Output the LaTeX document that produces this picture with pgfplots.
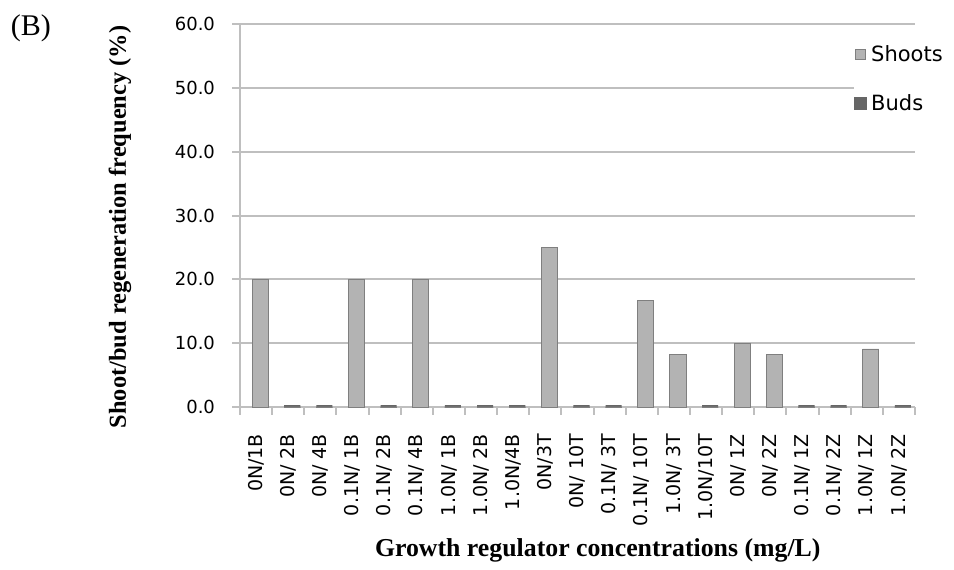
\documentclass[border=0pt]{standalone}
\usepackage{pgfplots}
\pgfplotsset{compat=1.18}
\usepackage{fontspec}
\setmainfont{Liberation Serif}
\newfontfamily\tickfont{DejaVu Sans}
\definecolor{shoot}{HTML}{B3B3B3}
\definecolor{shootedge}{HTML}{7F7F7F}
\definecolor{bud}{HTML}{666666}
\definecolor{gridc}{HTML}{BFBFBF}

\begin{document}
\begin{tikzpicture}
\begin{axis}[
  scale only axis, width=337.5pt, height=191.5pt,
  ybar, clip=false,
  xmin=-0.5, xmax=20.5, ymin=0, ymax=60,
  ytick={0,10,...,60},
  axis x line*=bottom, axis y line*=left,
  axis line style={gridc, line width=1pt, -},
  ymajorgrids, major grid style={gridc, line width=1pt},
  tick align=outside, major tick length=4pt,
  ytick style={gridc, line width=1pt},
  xtick={0,...,20},
  xtick style={draw=none},
  xticklabels={0N/1B, 0N/ 2B, 0N/ 4B, 0.1N/ 1B, 0.1N/ 2B, 0.1N/ 4B, 1.0N/ 1B, 1.0N/ 2B, 1.0N/4B,
    0N/3T, 0N/ 10T, 0.1N/ 3T, 0.1N/ 10T, 1.0N/ 3T, 1.0N/10T,
    0N/ 1Z, 0N/ 2Z, 0.1N/ 1Z, 0.1N/ 2Z, 1.0N/ 1Z, 1.0N/ 2Z},
  extra x ticks={-0.5,0.5,...,20.5},
  extra x tick labels={},
  extra x tick style={xtick style={draw=gridc, line width=1pt}},
  xticklabel style={rotate=90, anchor=east, font=\tickfont\fontsize{9.5}{11}\selectfont},
  xticklabel shift=6pt,
  yticklabel style={font=\tickfont\fontsize{9}{11}\selectfont},
  yticklabel shift=5pt,
  /pgf/number format/fixed, /pgf/number format/fixed zerofill,
  /pgf/number format/precision=1, /pgf/number format/assume math mode=true,
  ylabel={Shoot/bud regeneration frequency (\%)},
  ylabel style={at={(axis description cs:-0.178,0.47)}, anchor=center,
    font=\bfseries\fontsize{12.2}{14}\selectfont},
  xlabel={Growth regulator concentrations (mg/L)},
  xlabel style={at={(axis description cs:0.53,-0.375)}, anchor=center,
    font=\bfseries\fontsize{12.9}{15}\selectfont},
  bar width=0.5,
  every axis plot/.append style={legend image code/.code={\fill[#1] (0pt,-2.5pt) rectangle (5pt,2.5pt);}},
  reverse legend,
  legend style={at={(axis description cs:0.91,0.955)}, anchor=north west, draw=none, fill=white,
    inner sep=0pt, outer sep=0pt,
    font=\tickfont\fontsize{10.5}{12}\selectfont, row sep=11pt, legend cell align=left},
]
\addplot[fill=bud, draw=bud, line width=1.5pt, bar shift=2pt] coordinates {
  (0,0) (1,0) (2,0) (3,0) (4,0) (5,0) (6,0) (7,0) (8,0)
  (9,0) (10,0) (11,0) (12,0) (13,0) (14,0)
  (15,0) (16,0) (17,0) (18,0) (19,0) (20,0)
};
\addplot[fill=shoot, draw=shootedge, bar shift=2pt] coordinates {
  (0,20) (1,0) (2,0) (3,20) (4,0) (5,20) (6,0) (7,0) (8,0)
  (9,25) (10,0) (11,0) (12,16.7) (13,8.3) (14,0)
  (15,10) (16,8.3) (17,0) (18,0) (19,9.1) (20,0)
};
\legend{Buds, Shoots}
\node[font=\fontsize{15}{17}\selectfont] at (axis description cs:-0.31,0.99) {(B)};
\path (axis description cs:-0.3556,1.0627) (axis description cs:1.0578,-0.4178);
\end{axis}
\end{tikzpicture}
\end{document}
